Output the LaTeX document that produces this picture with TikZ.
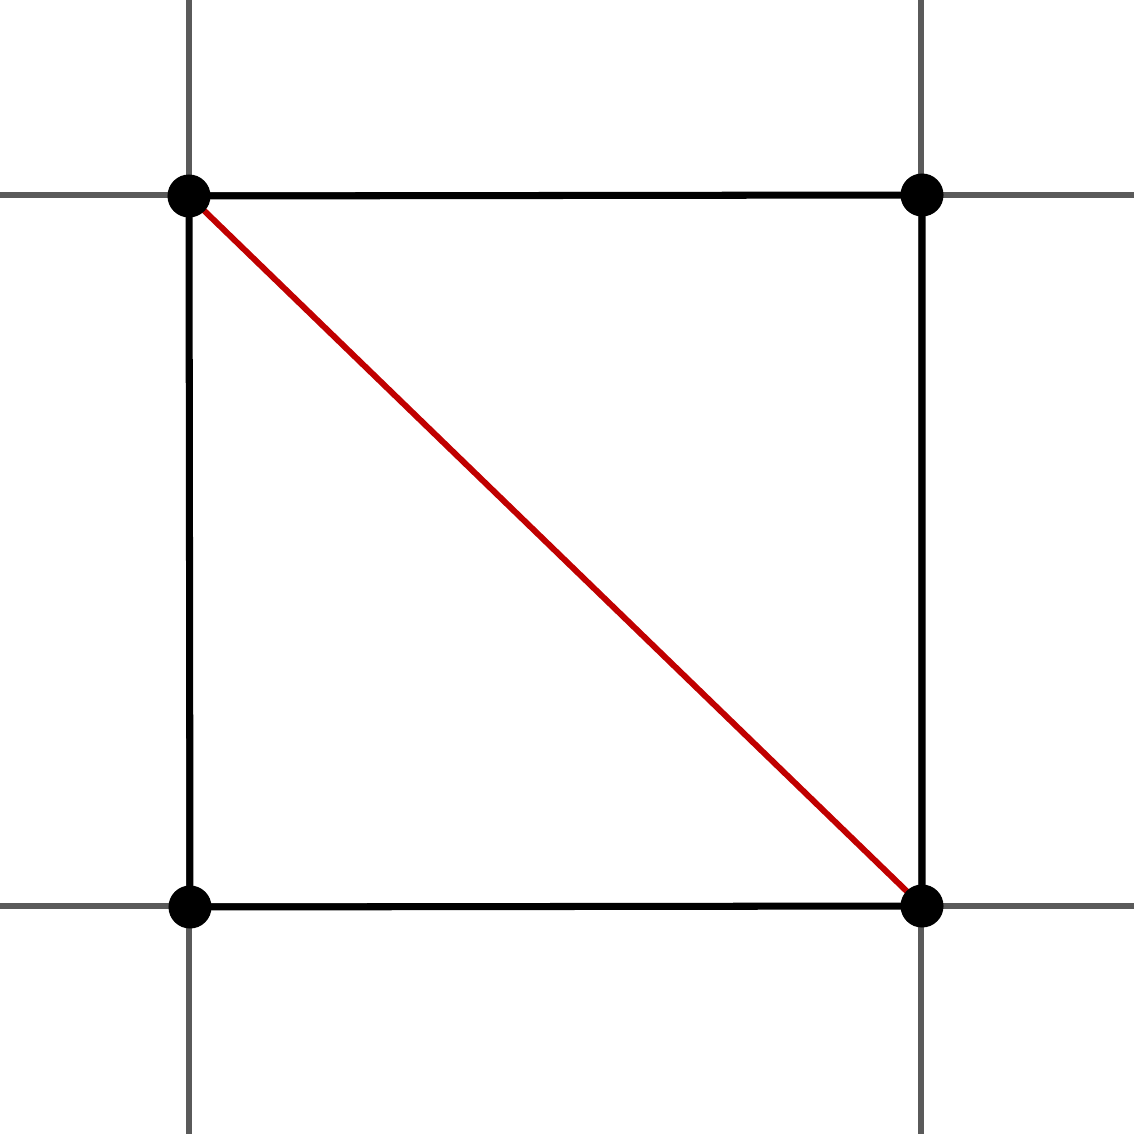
\documentclass[tikz,border=0pt]{standalone}
\definecolor{gridgray}{HTML}{5A5A5A}
\definecolor{diagred}{HTML}{C00000}
\begin{document}
\begin{tikzpicture}[x=0.01cm,y=-0.01cm,
  gridline/.style={draw=gridgray,line width=1.7pt},
  edge/.style={draw=black,line width=2pt},
  diag/.style={draw=diagred,line width=1.7pt},
  vertex/.style={circle,fill=black,inner sep=0pt,minimum size=0.43cm}]
\useasboundingbox (0,0) rectangle (1134,1134);
% grid lines
\draw[gridline] (189,0) -- (189,1134);
\draw[gridline] (921,0) -- (921,1134);
\draw[gridline] (0,195) -- (1134,195);
\draw[gridline] (0,906) -- (1134,906);
% vertices
\coordinate (A) at (189,196);
\coordinate (B) at (922,195);
\coordinate (C) at (190,907);
\coordinate (D) at (922,906);
\draw[edge] (A) -- (B) -- (D) -- (C) -- cycle;
\draw[diag] (A) -- (D);
\node[vertex] (a) at (A) {};
\node[vertex] (b) at (B) {};
\node[vertex] (c) at (C) {};
\node[vertex] (d) at (D) {};
\end{tikzpicture}
\end{document}
